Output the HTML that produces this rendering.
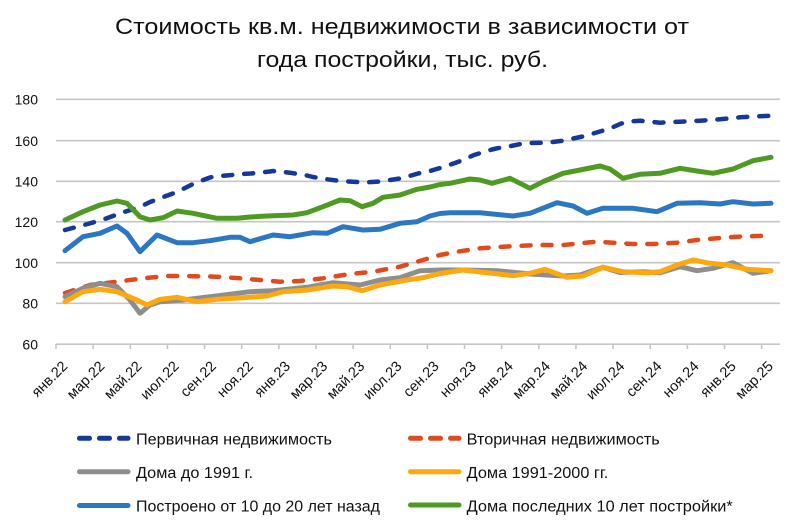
<!DOCTYPE html>
<html>
<head>
<meta charset="utf-8">
<style>
html,body{margin:0;padding:0;background:#fff;}
svg{display:block;}
text{font-family:"Liberation Sans","DejaVu Sans",sans-serif;fill:#111;}
</style>
</head>
<body>
<svg width="800" height="528" viewBox="0 0 800 528" xmlns="http://www.w3.org/2000/svg">
<rect width="800" height="528" fill="#fff"/>
<!-- Title -->
<text x="402" y="34" font-size="22" text-anchor="middle" textLength="574" lengthAdjust="spacingAndGlyphs">Стоимость кв.м. недвижимости в зависимости от</text>
<text x="402.5" y="67" font-size="22" text-anchor="middle" textLength="291" lengthAdjust="spacingAndGlyphs">года постройки, тыс. руб.</text>

<!-- Gridlines -->
<g stroke="#c6c6c6" stroke-width="1.6">
<line x1="56" y1="99.3" x2="780" y2="99.3"/>
<line x1="56" y1="140.7" x2="780" y2="140.7"/>
<line x1="56" y1="181.3" x2="780" y2="181.3"/>
<line x1="56" y1="221.7" x2="780" y2="221.7"/>
<line x1="56" y1="262.7" x2="780" y2="262.7"/>
<line x1="56" y1="303.3" x2="780" y2="303.3"/>
<line x1="56" y1="344.2" x2="780" y2="344.2"/>
</g>
<!-- Ticks -->
<g stroke="#c6c6c6" stroke-width="1.6">
<line x1="56" y1="344" x2="56" y2="349"/>
<line x1="93.14" y1="344" x2="93.14" y2="349"/>
<line x1="130.28" y1="344" x2="130.28" y2="349"/>
<line x1="167.42" y1="344" x2="167.42" y2="349"/>
<line x1="204.56" y1="344" x2="204.56" y2="349"/>
<line x1="241.7" y1="344" x2="241.7" y2="349"/>
<line x1="278.84" y1="344" x2="278.84" y2="349"/>
<line x1="315.98" y1="344" x2="315.98" y2="349"/>
<line x1="353.12" y1="344" x2="353.12" y2="349"/>
<line x1="390.26" y1="344" x2="390.26" y2="349"/>
<line x1="427.4" y1="344" x2="427.4" y2="349"/>
<line x1="464.54" y1="344" x2="464.54" y2="349"/>
<line x1="501.68" y1="344" x2="501.68" y2="349"/>
<line x1="538.82" y1="344" x2="538.82" y2="349"/>
<line x1="575.96" y1="344" x2="575.96" y2="349"/>
<line x1="613.1" y1="344" x2="613.1" y2="349"/>
<line x1="650.24" y1="344" x2="650.24" y2="349"/>
<line x1="687.38" y1="344" x2="687.38" y2="349"/>
<line x1="724.52" y1="344" x2="724.52" y2="349"/>
<line x1="761.66" y1="344" x2="761.66" y2="349"/>
</g>

<!-- Y labels -->
<g font-size="14" text-anchor="end">
<text x="38" y="104.5">180</text>
<text x="38" y="145.9">160</text>
<text x="38" y="186.5">140</text>
<text x="38" y="226.9">120</text>
<text x="38" y="267.9">100</text>
<text x="38" y="308.5">80</text>
<text x="38" y="349.4">60</text>
</g>

<!-- X labels -->
<g font-size="14.5" text-anchor="end">
<text transform="translate(68.3,367) rotate(-45)">янв.22</text>
<text transform="translate(105.4,367) rotate(-45)">мар.22</text>
<text transform="translate(142.6,367) rotate(-45)">май.22</text>
<text transform="translate(179.7,367) rotate(-45)">июл.22</text>
<text transform="translate(216.9,367) rotate(-45)">сен.22</text>
<text transform="translate(254,367) rotate(-45)">ноя.22</text>
<text transform="translate(291.1,367) rotate(-45)">янв.23</text>
<text transform="translate(328.3,367) rotate(-45)">мар.23</text>
<text transform="translate(365.4,367) rotate(-45)">май.23</text>
<text transform="translate(402.6,367) rotate(-45)">июл.23</text>
<text transform="translate(439.7,367) rotate(-45)">сен.23</text>
<text transform="translate(476.9,367) rotate(-45)">ноя.23</text>
<text transform="translate(514,367) rotate(-45)">янв.24</text>
<text transform="translate(551.1,367) rotate(-45)">мар.24</text>
<text transform="translate(588.3,367) rotate(-45)">май.24</text>
<text transform="translate(625.4,367) rotate(-45)">июл.24</text>
<text transform="translate(662.6,367) rotate(-45)">сен.24</text>
<text transform="translate(699.7,367) rotate(-45)">ноя.24</text>
<text transform="translate(736.9,367) rotate(-45)">янв.25</text>
<text transform="translate(774,367) rotate(-45)">мар.25</text>
</g>

<!-- Series -->
<g fill="none" stroke-linejoin="round" stroke-linecap="round">
<!-- Primary -->
<polyline stroke="#15399b" stroke-width="4.5" stroke-dasharray="9 12" points="65,230 84,225 102,220 117,214.5 121,213 140,207 150,202 158,199 177,192 190,185.5 195,183 210,177.5 214,176.5 232,175 243,174 251,173.5 270,171.5 273,171 290,172.7 307,175.5 313,177 325,179 340,181 344,181.3 362,182.3 367,182.3 381,181.5 390,180 400,178.5 413,175 418,173.5 430,171 440,168 455,163 463,160 474,155 492,149.5 497,148.3 511,146 523,143.5 530,143 547,142.7 563,140.7 585,136 600,131.5 610,128.5 620,124 627,121.7 640,120.7 660,122.7 680,121.7 700,120.7 720,119.3 740,117.3 771,115.7"/>
<!-- Secondary -->
<polyline stroke="#e04a1c" stroke-width="4.5" stroke-dasharray="9 12" points="65,293 90,285 117,281.7 143,278.3 167,276 183,276 217,276.7 240,278.3 260,280 280,281.7 300,281 323,278.3 350,274 373,271.7 400,266.7 423,260 440,255 457,251.7 480,248.3 503,246.7 537,245 563,245 597,241.7 613,242.7 633,244 653,244 677,242.7 697,240 717,238.3 737,236.7 757,236 771,235.7"/>
<!-- Gray -->
<polyline stroke="#8e8e8e" stroke-width="5" points="65,296.7 83,288.3 100,283.3 117,286.7 130,300 140,313.3 150,305 160,301.7 183,300 210,296.7 237,293.3 250,291.7 273,290.7 307,287.3 333,282.7 360,285 380,280 400,277.7 420,270.7 440,270 463,270 497,270.7 530,274 563,276 580,275 603,267.3 620,272.5 643,271.7 660,272.7 680,266.7 697,270.7 713,268.3 733,262.7 753,273.3 771,270.7"/>
<!-- Yellow -->
<polyline stroke="#fda80f" stroke-width="5" points="65,301.7 83,291.7 100,289.3 117,291.7 137,300 147,305 160,299.3 177,297.3 197,301.7 217,299.3 250,297.3 267,296 283,291.7 307,290 333,286 347,286.7 362,290.7 380,285 407,280 423,277.7 440,273.5 463,270 513,275.7 530,273.3 545,269.3 567,277.3 583,276 603,267.3 623,271.7 647,272.7 660,271.7 677,265 693,260 710,263.3 727,265 747,269.3 771,270.7"/>
<!-- Blue solid -->
<polyline stroke="#2b77c4" stroke-width="5" points="65,250.7 83,236.7 100,233.3 117,226 127,233.3 140,251.7 157,235 177,242.7 193,242.7 210,240.7 230,237.3 240,237.3 250,241.7 273,235 290,236.7 313,232.7 327,233.3 343,226.7 363,230 380,229.3 400,223.3 417,221.7 430,216 440,213.5 450,212.7 480,212.7 513,216 530,213.3 557,202.7 573,206 587,213.3 603,208.3 633,208.3 657,211.7 677,203.3 700,202.7 720,204 733,201.7 753,204 771,203.3"/>
<!-- Green -->
<polyline stroke="#4e9a22" stroke-width="5" points="65,220 83,211.7 100,205 117,201 127,203.3 140,216.7 150,220 163,217.7 177,211 193,213.3 217,218.3 237,218.3 250,217 267,216 293,215 307,212.7 323,206.7 340,200 350,200.7 362,206.7 373,203.3 383,197.3 400,195 417,189.3 430,187 440,184.5 450,183.3 470,179 480,180 492,183.3 510,178.3 530,188.3 543,181.7 563,173.3 580,170 600,166 610,169 623,178.3 640,174.3 660,173.3 680,168.3 697,171 713,173.3 733,169 753,160.7 771,157.3"/>
</g>

<!-- Legend -->
<g fill="none" stroke-linecap="round">
<line x1="79.5" y1="438.3" x2="128" y2="438.3" stroke="#15399b" stroke-width="5" stroke-dasharray="10 10"/>
<line x1="79.5" y1="471.7" x2="128" y2="471.7" stroke="#8e8e8e" stroke-width="5"/>
<line x1="79.5" y1="505.5" x2="128" y2="505.5" stroke="#2b77c4" stroke-width="5"/>
<line x1="410.5" y1="438.3" x2="459" y2="438.3" stroke="#e04a1c" stroke-width="5" stroke-dasharray="10 10"/>
<line x1="410.5" y1="471.7" x2="459" y2="471.7" stroke="#fda80f" stroke-width="5"/>
<line x1="410.5" y1="505" x2="459" y2="505" stroke="#4e9a22" stroke-width="5"/>
</g>
<g font-size="15.5">
<text x="136" y="444.5" textLength="196" lengthAdjust="spacingAndGlyphs">Первичная недвижимость</text>
<text x="136" y="478" textLength="117" lengthAdjust="spacingAndGlyphs">Дома до 1991 г.</text>
<text x="136" y="511.5" textLength="244" lengthAdjust="spacingAndGlyphs">Построено от 10 до 20 лет назад</text>
<text x="466.7" y="444.5" textLength="193" lengthAdjust="spacingAndGlyphs">Вторичная недвижимость</text>
<text x="466.7" y="478" textLength="141.6" lengthAdjust="spacingAndGlyphs">Дома 1991-2000 гг.</text>
<text x="466.7" y="511.5" textLength="266" lengthAdjust="spacingAndGlyphs">Дома последних 10 лет постройки*</text>
</g>
</svg>
</body>
</html>
